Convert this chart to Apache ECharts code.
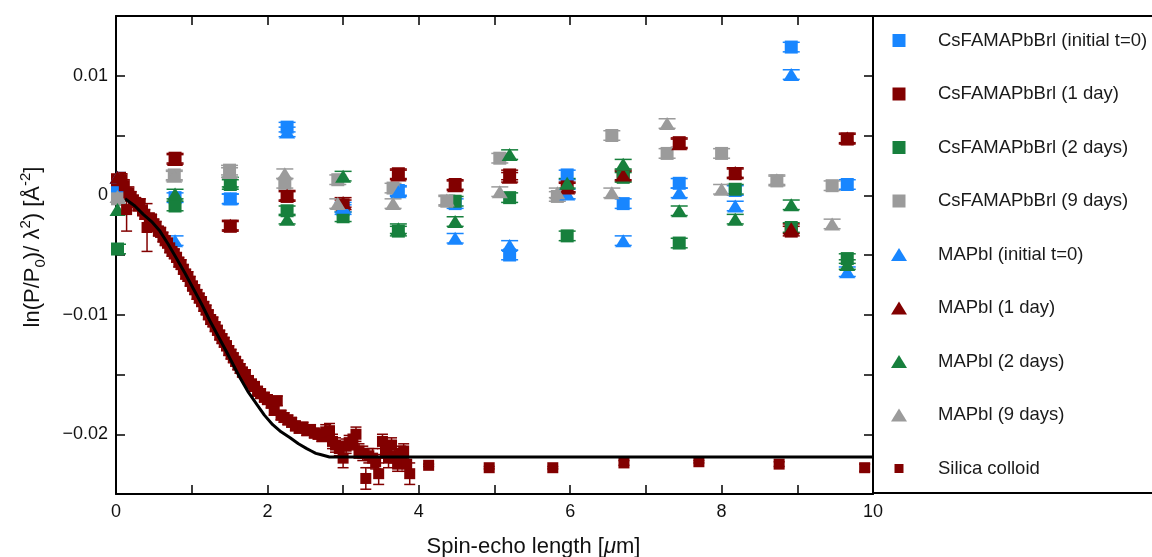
<!DOCTYPE html>
<html><head><meta charset="utf-8">
<script src="https://cdn.jsdelivr.net/npm/echarts@6/dist/echarts.min.js"></script>
<style>html,body{margin:0;padding:0;background:#fff}#c{width:1152px;height:557px}</style>
</head><body><div id="c"></div>
<script>
// ---------- data ----------
const xTicksMajor = [0, 2, 4, 6, 8, 10];
const yTicksMajor = [-0.02, -0.01, 0, 0.01];

const xCs   = [0.02,0.78,1.51,2.26,3.00,3.73,4.48,5.20,5.96,6.70,7.44,8.18,8.92,9.66];
const xGray = [0.02,0.77,1.50,2.23,2.93,3.66,4.37,5.07,5.83,6.55,7.28,8.00,8.73,9.46];

const csT0   = [0.0006,-0.0002,-0.0003,0.0057,-0.0012,0.0004,-0.0007,-0.0050,0.0017,-0.0007,0.0010,0.0004,0.0124,0.0009];
const cs1d   = [0.0013,0.0031,-0.0026,-0.0001,-0.0008,0.0018,0.0009,0.0017,0.0007,0.0016,0.0044,0.0018,-0.0030,0.0047];
const cs2d   = [-0.0045,-0.0009,0.0009,-0.0013,-0.0018,-0.0030,-0.0005,-0.0002,-0.0034,0.0015,-0.0040,0.0005,-0.0027,-0.0053];
const cs9d   = [-0.0003,0.0017,0.0021,0.0010,0.0013,0.0006,-0.0005,0.0031,-0.0001,0.0050,0.0035,0.0035,0.0012,0.0008];
const ma0    = [0.0015,-0.0038,-0.0003,0.0053,-0.0010,0.0003,-0.0036,-0.0042,0.0001,-0.0038,0.0002,-0.0009,0.0101,-0.0064];
const ma1d   = [0.0015,0.0030,-0.0025,0.0000,-0.0006,0.0017,0.0008,0.0015,0.0006,0.0017,0.0043,0.0019,-0.0028,0.0048];
const ma2d   = [-0.0012,0.0001,0.0011,-0.0020,0.0016,-0.0028,-0.0022,0.0034,0.0010,0.0026,-0.0013,-0.0020,-0.0008,-0.0058];
const ma9d   = [-0.0001,0.0016,0.0019,0.0018,-0.0007,-0.0007,-0.0004,0.0003,0.0002,0.0002,0.0060,0.0005,0.0013,-0.0024];
const perovErr = 0.0004;

const silicaX = [0.08,0.11,0.14,0.17,0.20,0.23,0.26,0.29,0.32,0.35,0.38,0.41,0.44,0.47,0.50,0.53,0.56,0.59,0.62,0.65,0.68,0.71,0.74,0.77,0.80,0.83,0.86,0.89,0.92,0.95,0.98,1.01,1.04,1.07,1.10,1.13,1.16,1.19,1.22,1.25,1.28,1.31,1.34,1.37,1.40,1.43,1.46,1.49,1.52,1.55,1.58,1.61,1.64,1.67,1.71,1.75,1.79,1.83,1.87,1.91,1.96,2.00,2.05,2.09,2.13,2.18,2.22,2.27,2.32,2.37,2.42,2.47,2.52,2.57,2.62,2.67,2.72,2.77,2.82,2.86,2.90,2.95,3.00,3.04,3.08,3.13,3.17,3.21,3.26,3.30,3.34,3.39,3.43,3.47,3.52,3.56,3.60,3.64,3.68,3.72,3.76,3.80,3.84,3.88,4.13,4.93,5.77,6.71,7.70,8.76,9.89];
const silicaY = [0.0013,0.0008,-0.0012,0.0002,-0.0001,-0.0004,-0.0006,-0.0009,-0.0007,-0.0013,-0.0016,-0.0027,-0.0019,-0.0020,-0.0024,-0.0026,-0.0030,-0.0031,-0.0035,-0.0038,-0.0040,-0.0044,-0.0047,-0.0049,-0.0052,-0.0056,-0.0058,-0.0062,-0.0066,-0.0068,-0.0072,-0.0076,-0.0079,-0.0083,-0.0086,-0.0089,-0.0093,-0.0096,-0.0100,-0.0104,-0.0106,-0.0110,-0.0113,-0.0117,-0.0120,-0.0123,-0.0126,-0.0130,-0.0133,-0.0136,-0.0139,-0.0142,-0.0145,-0.0148,-0.0150,-0.0155,-0.0158,-0.0160,-0.0164,-0.0166,-0.0169,-0.0171,-0.0174,-0.0180,-0.0172,-0.0184,-0.0186,-0.0188,-0.0190,-0.0193,-0.0195,-0.0194,-0.0197,-0.0196,-0.0199,-0.0200,-0.0202,-0.0198,-0.0197,-0.0206,-0.0209,-0.0212,-0.0220,-0.0210,-0.0207,-0.0206,-0.0200,-0.0214,-0.0216,-0.0237,-0.0218,-0.0220,-0.0223,-0.0233,-0.0206,-0.0214,-0.0220,-0.0209,-0.0218,-0.0225,-0.0216,-0.0214,-0.0225,-0.0233,-0.0226,-0.0228,-0.0228,-0.0224,-0.0223,-0.0225,-0.0228];
const silicaErr = [0.0005,0.0005,0.0018,0.0005,0.0004,0.0004,0.0004,0.0004,0.0004,0.0004,0.0004,0.0020,0.0004,0.0004,0.0004,0.0004,0.0004,0.0004,0.0004,0.0004,0.0004,0.0004,0.0004,0.0004,0.0004,0.0004,0.0004,0.0004,0.0004,0.0004,0.0004,0.0004,0.0004,0.0004,0.0004,0.0004,0.0004,0.0004,0.0004,0.0004,0.0004,0.0004,0.0004,0.0004,0.0004,0.0004,0.0004,0.0004,0.0004,0.0004,0.0004,0.0004,0.0004,0.0004,0.0004,0.0004,0.0004,0.0004,0.0004,0.0004,0.0004,0.0004,0.0004,0.0004,0.0004,0.0004,0.0004,0.0004,0.0004,0.0004,0.0004,0.0004,0.0004,0.0004,0.0004,0.0004,0.0004,0.0006,0.0006,0.0006,0.0006,0.0006,0.0008,0.0006,0.0006,0.0006,0.0006,0.0006,0.0006,0.0009,0.0006,0.0008,0.0006,0.0009,0.0006,0.0006,0.0008,0.0006,0.0006,0.0006,0.0006,0.0006,0.0006,0.0009,0.0001,0.0001,0.0001,0.0002,0.0001,0.0002,0.0003];

const fitX = [0.12,0.25,0.36,0.47,0.58,0.69,0.80,0.91,1.02,1.13,1.24,1.35,1.46,1.55,1.64,1.75,1.86,1.96,2.07,2.18,2.30,2.41,2.52,2.58,2.64,2.70,2.76,2.82,2.88,10];
const fitY = [-0.0003,-0.0009,-0.0016,-0.0022,-0.0030,-0.0041,-0.0053,-0.0065,-0.0078,-0.0091,-0.0105,-0.0118,-0.0131,-0.0142,-0.0153,-0.0165,-0.0175,-0.0184,-0.0192,-0.0198,-0.0203,-0.0208,-0.0212,-0.0214,-0.0216,-0.0217,-0.0218,-0.0219,-0.0219,-0.0219];

const names = ['CsFAMAPbBrl (initial t=0)','CsFAMAPbBrl (1 day)','CsFAMAPbBrl (2 days)','CsFAMAPbBrl (9 days)','MAPbl (initial t=0)','MAPbl (1 day)','MAPbl (2 days)','MAPbl (9 days)','Silica colloid'];

// ---------- styling ----------
const BLUE = '#1886FF', RED = '#820000', GREEN = '#17803D', GRAY = '#9B9B9B';
const FONT = 'Helvetica, "Liberation Sans", Arial, sans-serif';
const G = {left: 116, right: 279, top: 16, bottom: 63};

const perov = [
  {name: names[0], x: xCs,   y: csT0, color: BLUE,  sym: 'rect'},
  {name: names[1], x: xCs,   y: cs1d, color: RED,   sym: 'rect'},
  {name: names[2], x: xCs,   y: cs2d, color: GREEN, sym: 'rect'},
  {name: names[3], x: xGray, y: cs9d, color: GRAY,  sym: 'rect'},
  {name: names[4], x: xCs,   y: ma0,  color: BLUE,  sym: 'triangle'},
  {name: names[5], x: xCs,   y: ma1d, color: RED,   sym: 'triangle'},
  {name: names[6], x: xCs,   y: ma2d, color: GREEN, sym: 'triangle'},
  {name: names[7], x: xGray, y: ma9d, color: GRAY,  sym: 'triangle'}
];

function errSeries(xs, ys, errs, color, capHalf) {
  return {
    type: 'custom', silent: true, z: 2, clip: true,
    data: xs.map((x, i) => [x, ys[i], Array.isArray(errs) ? errs[i] : errs]),
    encode: {x: 0, y: 1},
    renderItem: function (params, api) {
      const x = api.value(0), y = api.value(1), e = api.value(2);
      const top = api.coord([x, y + e]), bot = api.coord([x, y - e]);
      const st = {stroke: color, lineWidth: 1.5};
      return {type: 'group', children: [
        {type: 'line', shape: {x1: top[0], y1: top[1], x2: bot[0], y2: bot[1]}, style: st},
        {type: 'line', shape: {x1: top[0] - capHalf, y1: top[1], x2: top[0] + capHalf, y2: top[1]}, style: st},
        {type: 'line', shape: {x1: bot[0] - capHalf, y1: bot[1], x2: bot[0] + capHalf, y2: bot[1]}, style: st}
      ]};
    }
  };
}

const series = [];
perov.forEach(p => {
  series.push(errSeries(p.x, p.y, perovErr, p.color, 8.5));
});
series.push(errSeries(silicaX, silicaY, silicaErr, RED, 5.5));
perov.forEach(p => {
  series.push({
    type: 'scatter', name: p.name, silent: true, z: 3,
    symbol: p.sym, symbolSize: p.sym === 'rect' ? 13 : [16, 13],
    itemStyle: {color: p.color, opacity: 1},
    data: p.x.map((x, i) => [x, p.y[i]])
  });
});
series.push({
  type: 'scatter', name: names[8], silent: true, z: 4,
  symbol: 'rect', symbolSize: 11,
  itemStyle: {color: RED, opacity: 1},
  data: silicaX.map((x, i) => [x, silicaY[i]])
});
series.push({
  type: 'line', name: 'fit', silent: true, z: 6,
  showSymbol: false, smooth: false,
  lineStyle: {color: '#000', width: 3},
  data: fitX.map((x, i) => [x, fitY[i]])
});

const ICON_SQ = 'path://M0,0L13,0L13,13L0,13Z';
const ICON_TRI = 'path://M8,0L16,13L0,13Z';
const ICON_SMALL = 'path://M0,0M13,13M2,2L11,2L11,11L2,11Z';
const legendData = names.map((n, i) => ({
  name: n,
  icon: i === 8 ? ICON_SMALL : (i < 4 ? ICON_SQ : ICON_TRI)
}));

function yLabel(v) {
  const k = Math.round(v * 1000);
  if (!yTicksMajor.some(t => Math.round(t * 1000) === k)) return '';
  if (k === 0) return '0';
  return (k < 0 ? '\u2212' : '') + (Math.abs(k) / 1000).toString();
}
function xLabel(v) {
  return xTicksMajor.indexOf(Math.round(v)) >= 0 && Math.abs(v - Math.round(v)) < 1e-9 ? String(Math.round(v)) : '';
}

const axLine = {show: true, onZero: false, lineStyle: {color: '#000', width: 2}};
const axTick = {show: true, inside: true, length: 9, lineStyle: {color: '#000', width: 1.5}};

const option = {
  animation: false,
  backgroundColor: '#fff',
  textStyle: {fontFamily: FONT},
  grid: {left: G.left, right: G.right, top: G.top, bottom: G.bottom, containLabel: false, outerBoundsMode: 'none'},
  xAxis: [
    {type: 'value', min: 0, max: 10, interval: 1, position: 'bottom',
     axisLine: axLine, axisTick: axTick, splitLine: {show: false},
     axisLabel: {formatter: xLabel, fontSize: 18, color: '#111', margin: 9, fontFamily: FONT},
     name: 'Spin-echo length [{i|\u03bc}m]', nameLocation: 'middle', nameGap: 42,
     nameTextStyle: {fontSize: 22, color: '#111', fontFamily: FONT, padding: [0, 0, 0, 78],
       rich: {i: {fontSize: 22, fontStyle: 'italic', color: '#111', fontFamily: FONT}}}},
    {type: 'value', min: 0, max: 10, interval: 1, position: 'top',
     axisLine: axLine, axisTick: axTick, splitLine: {show: false}, axisLabel: {show: false}}
  ],
  yAxis: [
    {type: 'value', min: -0.025, max: 0.015, interval: 0.005, position: 'left',
     axisLine: axLine, axisTick: axTick, splitLine: {show: false},
     axisLabel: {formatter: yLabel, fontSize: 18, color: '#111', margin: 8, fontFamily: FONT},
     name: 'ln(P/P{sub|0})/ \u03bb{sup|2}) [\u00c5{sup|-2}]', nameLocation: 'middle', nameGap: 68, nameRotate: 90,
     nameTextStyle: {fontSize: 22, color: '#111', fontFamily: FONT, lineHeight: 30, padding: [0, 0, 0, 16],
       rich: {
         sub: {fontSize: 15, verticalAlign: 'bottom', lineHeight: 15, color: '#111', fontFamily: FONT},
         sup: {fontSize: 15, verticalAlign: 'top', lineHeight: 15, color: '#111', fontFamily: FONT}
       }}},
    {type: 'value', min: -0.025, max: 0.015, interval: 0.005, position: 'right',
     axisLine: axLine, axisTick: axTick, splitLine: {show: false}, axisLabel: {show: false}}
  ],
  legend: {
    data: legendData, orient: 'vertical', left: 891, top: 31, padding: 0,
    itemWidth: 68, itemHeight: 13, itemGap: 34.5, selectedMode: false,
    textStyle: {fontSize: 18.5, color: '#1a1a1a', fontFamily: FONT, lineHeight: 18}
  },
  graphic: [
    {type: 'rect', silent: true, z: 10,
     shape: {x: 1152 - G.right, y: G.top, width: G.right + 20, height: 557 - G.top - G.bottom - 1},
     style: {fill: 'none', stroke: '#000', lineWidth: 2}}
  ],
  series: series
};

const chart = echarts.init(document.getElementById('c'), null, {renderer: 'canvas'});
chart.setOption(option);
</script>
</body></html>
